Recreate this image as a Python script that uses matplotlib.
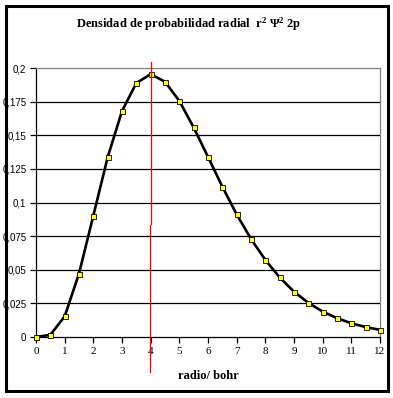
"""Radial probability density r^2 Psi^2 for the 2p orbital."""

import matplotlib
matplotlib.use("Agg")
import matplotlib.pyplot as plt
from matplotlib.patches import Rectangle

# Section: values
radius = [0, 0.5, 1, 1.5, 2, 2.5, 3, 3.5, 4, 4.5, 5, 5.5, 6,
          6.5, 7, 7.5, 8, 8.5, 9, 9.5, 10, 10.5, 11, 11.5, 12]
density = [0.0, 0.0016, 0.0153, 0.0471, 0.0902, 0.1336, 0.168, 0.1888, 0.1954,
           0.1898, 0.1755, 0.1558, 0.1339, 0.1118, 0.0912, 0.0729, 0.0573,
           0.0443, 0.0337, 0.0254, 0.0189, 0.0140, 0.0102, 0.0074, 0.0053]
y_ticks = [0, 0.025, 0.05, 0.075, 0.1, 0.125, 0.15, 0.175, 0.2]
y_tick_labels = ["0", "0,025", "0,05", "0,075", "0,1", "0,125", "0,15", "0,175", "0,2"]
x_ticks = list(range(0, 13))
peak_radius = 4

SERIF = "Liberation Serif"
SANS = "Liberation Sans"

plt.rcParams["mathtext.fontset"] = "custom"
plt.rcParams["mathtext.rm"] = "Liberation Serif:bold"
plt.rcParams["mathtext.it"] = "Liberation Serif:bold"
plt.rcParams["mathtext.bf"] = "Liberation Serif:bold"

fig = plt.figure(figsize=(3.93, 3.98), dpi=100)
ax = fig.add_axes([36 / 393, 1 - 337 / 398, 344 / 393, 269 / 398])

# Section: grid lines and frame of the plot area
for value in y_ticks[1:-1]:
    ax.axhline(value, color="black", linewidth=0.9, zorder=1)
ax.set_xlim(0, 12)
ax.set_ylim(0, 0.2)
ax.spines["top"].set_color("#808080")
ax.spines["right"].set_color("#808080")
ax.spines["left"].set_color("black")
ax.spines["bottom"].set_color("black")
for spine in ax.spines.values():
    spine.set_linewidth(0.9)

# Section: the curve and its yellow markers
ax.plot(radius, density, color="black", linewidth=1.9, zorder=3,
        solid_joinstyle="round")
ax.plot(radius, density, linestyle="none", marker="s", markersize=3.6,
        markerfacecolor="#ffff00", markeredgecolor="black",
        markeredgewidth=0.6, zorder=4, clip_on=False)

# Section: vertical marker at the most probable radius
ax.plot([peak_radius, peak_radius], [0.0841, 0.2046], color="red",
        linewidth=0.9, clip_on=False, zorder=5)
ax.plot([peak_radius - 0.035, peak_radius - 0.035], [-0.026, 0.0835],
        color="red", linewidth=0.9, clip_on=False, zorder=5)

# Section: ticks and labels
ax.set_xticks(x_ticks)
ax.set_xticklabels([str(t) for t in x_ticks], fontfamily=SERIF, fontsize=8)
ax.set_yticks(y_ticks)
ax.set_yticklabels(y_tick_labels, fontfamily=SANS, fontsize=7)
ax.tick_params(axis="both", direction="out", length=4, width=0.9,
               color="black", pad=3)
ax.set_xlabel("radio/ bohr", fontfamily=SERIF, fontweight="bold",
              fontsize=9, labelpad=10)

fig.text(0.48, 1 - 24 / 398, r"Densidad de probabilidad radial  r$^{2}$ Ψ$^{2}$ 2p",
         ha="center", va="center", fontfamily=SERIF, fontweight="bold",
         fontsize=9)

# Section: outer border of the chart
fig.patches.append(Rectangle((6 / 393, 7 / 398), 382 / 393, 385 / 398,
                             transform=fig.transFigure, fill=False,
                             edgecolor="black", linewidth=2.2))

fig.savefig("out.png", dpi=100)
plt.close(fig)
